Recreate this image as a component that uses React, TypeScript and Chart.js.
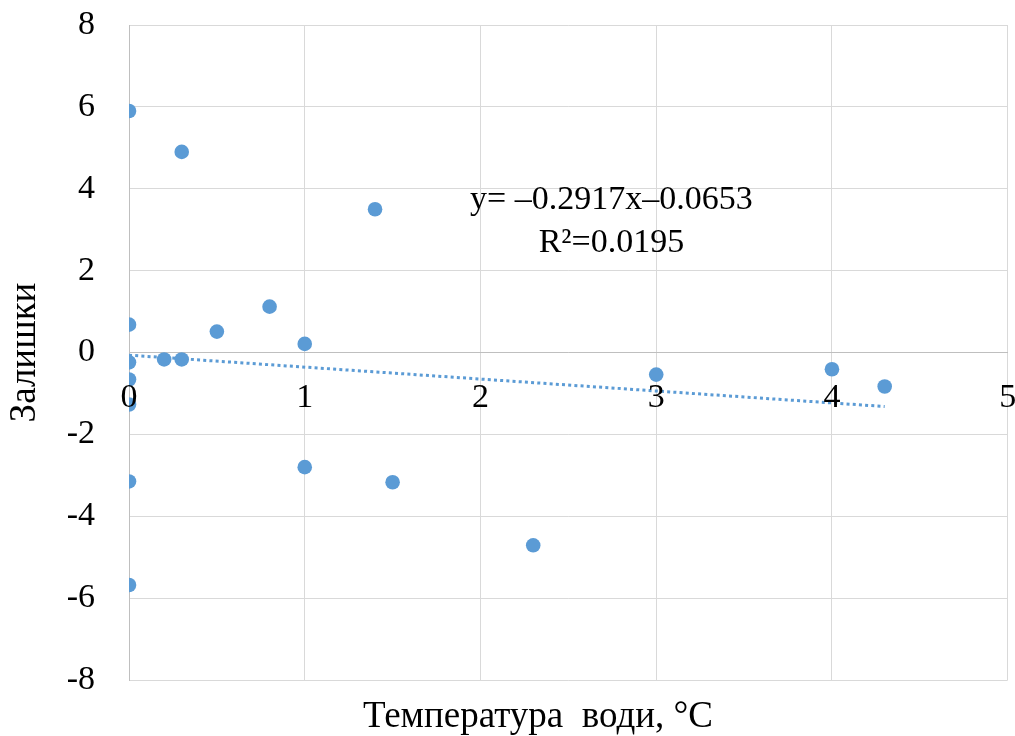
import React, { useEffect, useRef } from "react";
import { Chart, registerables } from "chart.js";

Chart.register(...registerables);

// Data
const X_VALUES = [0, 0.3, 1.4, 0.8, 0.5, 0, 1.0, 0, 0.2, 0.3, 0, 0, 3, 4, 4.3, 1, 1.5, 2.3, 0, 0];
const Y_VALUES = [5.9, 4.9, 3.5, 1.12, 0.51, 0.68, 0.21, -0.24, -0.17, -0.17, -0.66, -1.27, -0.54, -0.41, -0.83, -2.8, -3.17, -4.71, -3.15, -5.68];

const TREND_SLOPE = -0.2917;
const TREND_INTERCEPT = -0.0653;
const TREND_RANGE = [0, 4.3];
const EQUATION_LINES = ["y= \u20130.2917x\u20130.0653", "R\u00b2=0.0195"];

const X_TICKS = [0, 1, 2, 3, 4, 5];
const Y_TICKS = [-8, -6, -4, -2, 0, 2, 4, 6, 8];

const X_TITLE = "Температура  води, °C";
const Y_TITLE = "Залишки";

const BLUE = "#5B9BD5";
const FONT = '"Liberation Serif", "Times New Roman", serif';

function zeroPadding(s: any) {
  s.paddingTop = 0;
  s.paddingBottom = 0;
  s.paddingLeft = 0;
  s.paddingRight = 0;
}

export default function App() {
  const ref = useRef<HTMLCanvasElement | null>(null);

  useEffect(() => {
    document.body.style.margin = "0";
    const canvas = ref.current;
    if (!canvas) return;

    const points = X_VALUES.map((x, i) => ({ x, y: Y_VALUES[i] }));
    const trend = TREND_RANGE.map((x) => ({ x, y: TREND_SLOPE * x + TREND_INTERCEPT }));

    const textPlugin = {
      id: "extraText",
      afterDraw(chart: any) {
        const { ctx, chartArea, scales } = chart;
        ctx.save();
        ctx.fillStyle = "#000";
        ctx.font = `34px ${FONT}`;
        ctx.textAlign = "center";
        ctx.textBaseline = "alphabetic";
        // equation text
        const ex = scales.x.getPixelForValue(2.745);
        const ey = scales.y.getPixelForValue(3.51);
        ctx.fillText(EQUATION_LINES[0], ex, ey);
        ctx.fillText(EQUATION_LINES[1], ex, ey + 43);
        // x axis title
        ctx.font = `37px ${FONT}`;
        ctx.fillText(X_TITLE, 538, chartArea.bottom + 47);
        ctx.restore();
      },
    };

    const chart = new Chart(canvas, {
      type: "scatter",
      data: {
        datasets: [
          {
            label: "Залишки",
            data: points,
            backgroundColor: BLUE,
            borderColor: BLUE,
            pointRadius: 7.3,
            pointBorderWidth: 0,
            pointHoverRadius: 7.3,
          },
          {
            type: "line",
            label: "Лінійний тренд",
            data: trend,
            borderColor: BLUE,
            borderWidth: 3,
            borderDash: [3, 3.2],
            pointRadius: 0,
            fill: false,
            showLine: true,
          } as any,
        ],
      },
      options: {
        responsive: false,
        animation: false,
        layout: { padding: { top: 25, right: 5, bottom: 56, left: 0 } },
        plugins: {
          legend: { display: false },
          tooltip: { enabled: false },
          title: { display: false },
        },
        scales: {
          x: {
            type: "linear",
            position: { y: 0 } as any,
            min: 0,
            max: 5,
            afterBuildTicks: (s: any) => {
              s.ticks = X_TICKS.map((v) => ({ value: v }));
            },
            afterFit: (s: any) => {
              s.height = 0;
              zeroPadding(s);
            },
            grid: { color: "#d9d9d9", lineWidth: 1, drawTicks: false },
            border: { color: "#bfbfbf", width: 1 },
            ticks: {
              z: 1,
              padding: 25,
              color: "#000",
              font: { family: FONT, size: 34 },
              maxRotation: 0,
              autoSkip: false,
            },
          },
          y: {
            type: "linear",
            min: -8,
            max: 8,
            afterBuildTicks: (s: any) => {
              s.ticks = Y_TICKS.map((v) => ({ value: v }));
            },
            afterFit: (s: any) => {
              s.width = 129;
              zeroPadding(s);
            },
            grid: { color: "#d9d9d9", lineWidth: 1, drawTicks: false },
            border: { color: "#bfbfbf", width: 1 },
            ticks: {
              padding: 34,
              color: "#000",
              font: { family: FONT, size: 34 },
            },
            title: {
              display: true,
              text: Y_TITLE,
              color: "#000",
              font: { family: FONT, size: 37 },
              padding: { top: 3, bottom: 0 },
            },
          },
        },
      },
      plugins: [textPlugin],
    });

    return () => chart.destroy();
  }, []);

  return (
    <div style={{ position: "absolute", left: 0, top: 0, width: 1015, height: 736 }}>
      <canvas ref={ref} width={1015} height={736} style={{ display: "block" }} />
    </div>
  );
}
